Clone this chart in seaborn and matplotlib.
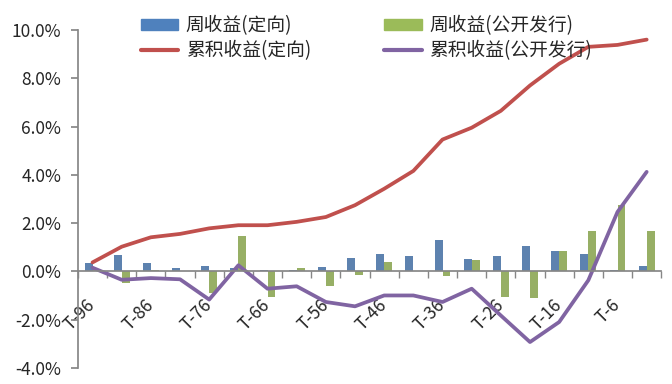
import numpy as np
import pandas as pd
import matplotlib
matplotlib.use("Agg")
import matplotlib.pyplot as plt
from matplotlib.patches import Patch
from matplotlib.lines import Line2D
from matplotlib.ticker import FuncFormatter, FixedLocator, NullFormatter
import seaborn as sns

# ── Data (weekly / cumulative returns, %) ──────────
periods = [f"T-{n}" for n in range(96, 0, -5)]

weekly_directed = [0.33, 0.66, 0.33, 0.15, 0.20, 0.15, 0.05, 0.07, 0.18, 0.55,
                   0.70, 0.64, 1.30, 0.52, 0.64, 1.03, 0.84, 0.70, 0.05, 0.20]
weekly_public = [0.06, -0.50, 0.07, 0.00, -0.90, 1.45, -1.05, 0.15, -0.60, -0.17,
                 0.40, 0.02, -0.20, 0.46, -1.05, -1.12, 0.84, 1.67, 2.73, 1.67]
cum_directed = [0.37, 1.02, 1.41, 1.55, 1.78, 1.91, 1.91, 2.05, 2.25, 2.74,
                3.42, 4.16, 5.46, 5.95, 6.65, 7.70, 8.60, 9.30, 9.38, 9.60]
cum_public = [0.15, -0.35, -0.28, -0.33, -1.17, 0.25, -0.72, -0.62, -1.27, -1.45,
              -1.00, -1.00, -1.27, -0.72, -1.83, -2.93, -2.10, -0.37, 2.46, 4.12]

labels_bar = ["周收益(定向)", "周收益(公开发行)"]
labels_line = ["累积收益(定向)", "累积收益(公开发行)"]

BLUE, GREEN, RED, PURPLE = "#4F81BD", "#9BBB59", "#C0504D", "#8064A2"
AXIS_GRAY = "#868686"

sns.set_theme(style="white")
plt.rcParams["font.family"] = ["Noto Sans CJK SC", "DejaVu Sans"]
plt.rcParams["axes.unicode_minus"] = False

bars = pd.DataFrame({
    "period": periods * 2,
    "value": weekly_directed + weekly_public,
    "series": [labels_bar[0]] * len(periods) + [labels_bar[1]] * len(periods),
})

fig = plt.figure(figsize=(6.72, 3.84), dpi=100)
ax = fig.add_axes([0.116, 0.042, 0.868, 0.880])

sns.barplot(data=bars, x="period", y="value", hue="series",
            palette=[BLUE, GREEN], width=0.54, linewidth=0,
            ax=ax, legend=False)

x = np.arange(len(periods))
sns.lineplot(x=x, y=cum_directed, color=RED, linewidth=2.7, ax=ax)
sns.lineplot(x=x, y=cum_public, color=PURPLE, linewidth=2.7, ax=ax)

# ── Axes styling ───────────────────────────────────
ax.set_ylim(-4, 10)
ax.set_xlim(-0.5, len(periods) - 0.5)
ax.set_yticks(np.arange(-4, 10.1, 2))
ax.yaxis.set_major_formatter(FuncFormatter(lambda v, _: f"{v:.1f}%"))
ax.set_xlabel("")
ax.set_ylabel("")

ax.spines["top"].set_visible(False)
ax.spines["right"].set_visible(False)
ax.spines["left"].set_color(AXIS_GRAY)
ax.spines["bottom"].set_color(AXIS_GRAY)
ax.spines["bottom"].set_position(("data", 0))

# labels every other category, tick marks on category boundaries
ax.xaxis.set_major_locator(FixedLocator(x[::2]))
ax.set_xticklabels(periods[::2], rotation=45, ha="right", va="center",
                   rotation_mode="anchor", fontsize=12.5)
ax.xaxis.set_minor_locator(FixedLocator(np.arange(-0.5, len(periods), 1)))
ax.xaxis.set_minor_formatter(NullFormatter())
ax.tick_params(axis="x", which="major", length=0, pad=22)
ax.tick_params(axis="x", which="minor", bottom=True, length=5,
               color=AXIS_GRAY, direction="out")
ax.tick_params(axis="y", left=True, length=5, color=AXIS_GRAY,
               direction="out", labelsize=12.5, pad=7)

handles = [
    Patch(color=BLUE, label=labels_bar[0]),
    Line2D([], [], color=RED, linewidth=3, label=labels_line[0]),
    Patch(color=GREEN, label=labels_bar[1]),
    Line2D([], [], color=PURPLE, linewidth=3, label=labels_line[1]),
]
fig.legend(handles=handles, loc="upper center", bbox_to_anchor=(0.545, 1.005),
           ncol=2, frameon=False, fontsize=13.5, handlelength=2.0,
           handleheight=0.55, labelspacing=0.2, columnspacing=3.9,
           handletextpad=0.4)

fig.savefig("out.png", dpi=100)
plt.close(fig)
